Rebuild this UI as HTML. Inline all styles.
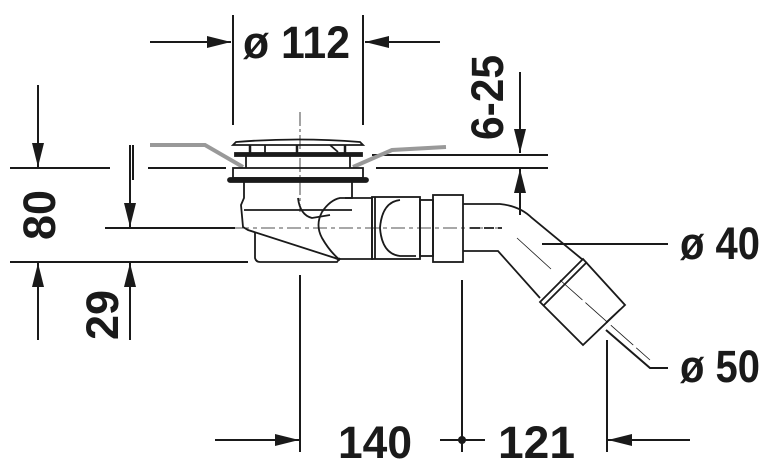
<!DOCTYPE html>
<html><head><style>
html,body{margin:0;padding:0;background:#fff}
svg{display:block}
text{font-family:"Liberation Sans Narrow","Liberation Sans",sans-serif;font-weight:bold;fill:#1a1a1a}
</style></head><body>
<svg width="771" height="471" viewBox="0 0 771 471" xmlns="http://www.w3.org/2000/svg">
<defs>
<marker id="b" markerWidth="24" markerHeight="12" refX="24" refY="6" orient="auto" markerUnits="userSpaceOnUse"><path d="M0,0 L24,6 L0,12 Z" fill="#1a1a1a"/></marker>
</defs>
<g stroke="#1a1a1a" stroke-width="2" fill="none">
<line x1="233" y1="15" x2="233" y2="125"/>
<line x1="363" y1="15" x2="363" y2="125"/>
<line x1="150" y1="42" x2="231" y2="42" marker-end="url(#b)"/>
<line x1="440" y1="42" x2="365" y2="42" marker-end="url(#b)"/>
<line x1="520" y1="72" x2="520" y2="153" marker-end="url(#b)"/>
<line x1="520" y1="215" x2="520" y2="169" marker-end="url(#b)"/>
<line x1="372" y1="155" x2="548" y2="155"/>
<line x1="376" y1="168" x2="548" y2="168"/>
<line x1="10" y1="168" x2="110" y2="168"/>
<line x1="148" y1="168" x2="226" y2="168"/>
<line x1="133" y1="145" x2="133" y2="180"/>
<line x1="38" y1="85" x2="38" y2="167" marker-end="url(#b)"/>
<line x1="38" y1="340" x2="38" y2="263" marker-end="url(#b)"/>
<line x1="130" y1="145" x2="130" y2="227" marker-end="url(#b)"/>
<line x1="130" y1="340" x2="130" y2="263" marker-end="url(#b)"/>
<line x1="105" y1="228" x2="235" y2="228"/>
<line x1="10" y1="262" x2="248" y2="262"/>
<line x1="300" y1="275" x2="300" y2="452"/>
<line x1="462" y1="280" x2="462" y2="452"/>
<line x1="607" y1="340" x2="607" y2="452"/>
<line x1="215" y1="440" x2="299" y2="440" marker-end="url(#b)"/>
<line x1="690" y1="440" x2="608" y2="440" marker-end="url(#b)"/>
<line x1="440" y1="440" x2="485" y2="440"/>
<line x1="542" y1="244" x2="668" y2="244"/>
<polyline points="606,330 650,368 668,368"/>
<line x1="300" y1="112" x2="300" y2="212" stroke-width="0.8" stroke-dasharray="14,3,3,3"/>
<line x1="235" y1="228" x2="500" y2="228" stroke-width="0.8" stroke-dasharray="14,4,4,4"/>
</g>
<circle cx="462" cy="440" r="4" fill="#1a1a1a"/>
<g stroke="#999" stroke-width="4" fill="none">
<polyline points="150,145 205,145 243,167"/>
<polyline points="353,167 392,150 446,147"/>
</g>
<g stroke="#1a1a1a" stroke-width="1.8" fill="none">
<path d="M233,145 L236,142 Q298,137 360,142 L363,145 Z"/>
<line x1="250" y1="145" x2="250" y2="153" stroke-width="2.5"/>
<line x1="265" y1="145" x2="265" y2="153"/>
<line x1="297" y1="145" x2="297" y2="153" stroke-width="2.5"/>
<line x1="345" y1="145" x2="345" y2="153" stroke-width="2.5"/>
<line x1="330" y1="145" x2="338" y2="152"/>
<rect x="235" y="153" width="127" height="3" fill="#1a1a1a"/>
<line x1="246" y1="156" x2="246" y2="168"/>
<line x1="350" y1="156" x2="350" y2="168"/>
<rect x="233" y="168" width="130" height="10"/>
<rect x="228" y="178" width="140" height="4" rx="2" fill="#1a1a1a"/>
<path d="M244,182 L244,198 L241,205 L243,227 L248,230 L335,258 L340,260"/>
<path d="M352,182 L352,198 L340,198 Q330,200 322,212 Q315,225 322,238 Q330,252 340,260"/>
<path d="M255,232 L255,258 Q256,262 260,262 L337,262 L340,258"/>
<path d="M298,198 Q300,215 312,218 L330,215"/>
<line x1="244" y1="210" x2="352" y2="210"/>
<path d="M345,198 L372,198 L372,259 L340,259"/>
<rect x="372" y="197" width="48" height="62"/>
<line x1="375" y1="197" x2="375" y2="259"/>
<path d="M400,200 Q382,202 380,228 Q382,254 400,256 L416,256"/>
<rect x="420" y="200" width="13" height="56"/>
<rect x="433" y="195" width="30" height="67"/>
<path d="M463,204 L500,204 Q520,206 532,218 L583,260"/>
<path d="M463,251 L498,251 L540,298"/>
<line x1="470" y1="228" x2="502" y2="228" stroke-dasharray="10,4"/>
<line x1="517" y1="238" x2="551" y2="269" stroke-width="0.8"/>
<line x1="560" y1="280" x2="650" y2="360" stroke-width="0.8" stroke-dasharray="30,4"/>
<path d="M583,259 L625,305 L583,345 L540,302 Z"/>
<line x1="544" y1="305" x2="587" y2="262"/>
<line x1="606" y1="322" x2="620" y2="309" stroke-width="0.8"/>
<line x1="598" y1="330" x2="612" y2="317" stroke-width="0.8"/>
</g>
<text x="243" y="58" font-size="45" textLength="107" lengthAdjust="spacingAndGlyphs">ø 112</text>
<text transform="translate(503,140) rotate(-90)" font-size="45" textLength="85" lengthAdjust="spacingAndGlyphs">6-25</text>
<text transform="translate(55,240) rotate(-90)" font-size="45" textLength="50" lengthAdjust="spacingAndGlyphs">80</text>
<text transform="translate(118,340) rotate(-90)" font-size="45" textLength="50" lengthAdjust="spacingAndGlyphs">29</text>
<text x="338" y="458" font-size="45" textLength="74" lengthAdjust="spacingAndGlyphs">140</text>
<text x="498" y="458" font-size="45" textLength="77" lengthAdjust="spacingAndGlyphs">121</text>
<text x="680" y="259" font-size="45" textLength="80" lengthAdjust="spacingAndGlyphs">ø 40</text>
<text x="680" y="382" font-size="45" textLength="80" lengthAdjust="spacingAndGlyphs">ø 50</text>
</svg>
</body></html>
